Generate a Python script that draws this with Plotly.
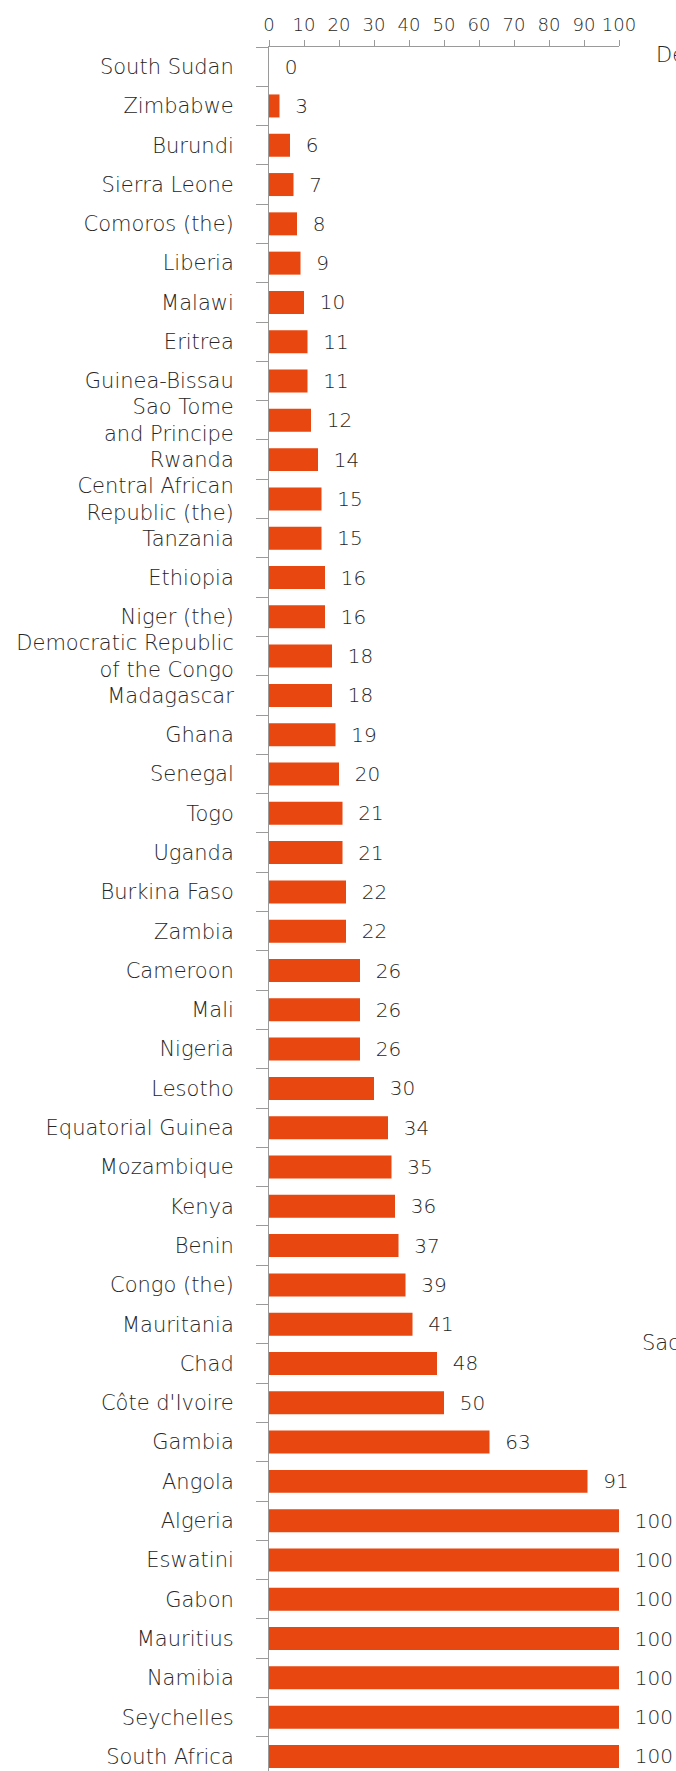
import plotly.graph_objects as go

countries = [
    "South Sudan", "Zimbabwe", "Burundi", "Sierra Leone", "Comoros (the)", "Liberia",
    "Malawi", "Eritrea", "Guinea-Bissau", "Sao Tome<br>and Principe", "Rwanda",
    "Central African<br>Republic (the)", "Tanzania", "Ethiopia", "Niger (the)",
    "Democratic Republic<br>of the Congo", "Madagascar", "Ghana", "Senegal", "Togo",
    "Uganda", "Burkina Faso", "Zambia", "Cameroon", "Mali", "Nigeria", "Lesotho",
    "Equatorial Guinea", "Mozambique", "Kenya", "Benin", "Congo (the)", "Mauritania",
    "Chad", "Côte d'Ivoire", "Gambia", "Angola", "Algeria", "Eswatini", "Gabon",
    "Mauritius", "Namibia", "Seychelles", "South Africa",
]
values = [
    0, 3, 6, 7, 8, 9, 10, 11, 11, 12, 14, 15, 15, 16, 16, 18, 18, 19, 20, 21, 21, 22, 22,
    26, 26, 26, 30, 34, 35, 36, 37, 39, 41, 48, 50, 63, 91, 100, 100, 100, 100, 100, 100, 100,
]
x_ticks = [0, 10, 20, 30, 40, 50, 60, 70, 80, 90, 100]
side_texts = ["De", "Sac"]

FONT = "DejaVu Sans"
TEXT = "#262626"
AXIS = "#9a9a9a"
BAR = "#E8470F"

fig = go.Figure(
    go.Bar(
        x=values,
        y=countries,
        orientation="h",
        marker=dict(color=BAR, line=dict(width=0)),
        text=values,
        texttemplate="\u00a0\u00a0%{x}",
        textposition="outside",
        constraintext="none",
        cliponaxis=False,
        textfont=dict(family=FONT, size=20, color=TEXT, weight=300),
        hoverinfo="skip",
    )
)

fig.update_layout(
    width=676,
    height=1771,
    margin=dict(l=269, r=57, t=47, b=0, pad=0),
    paper_bgcolor="white",
    plot_bgcolor="white",
    bargap=0.415,
    showlegend=False,
    font=dict(family=FONT, color=TEXT, weight=300),
    xaxis=dict(
        side="top",
        range=[0, 100],
        tickvals=x_ticks,
        ticktext=[str(v) for v in x_ticks],
        showgrid=False,
        zeroline=False,
        showline=True,
        linecolor=AXIS,
        linewidth=1,
        ticks="outside",
        ticklen=6,
        tickcolor=AXIS,
        tickfont=dict(family=FONT, size=18, color=TEXT, weight=300),
        ticklabelstandoff=2,
        fixedrange=True,
    ),
    yaxis=dict(
        type="category",
        categoryorder="array",
        categoryarray=countries,
        range=[43.37, -0.5],
        showgrid=False,
        zeroline=False,
        showline=True,
        linecolor=AXIS,
        linewidth=1,
        ticks="outside",
        ticklen=12,
        tickcolor=AXIS,
        tickson="boundaries",
        tickfont=dict(family=FONT, size=21, color=TEXT, weight=300),
        ticklabelstandoff=30,
        fixedrange=True,
    ),
    annotations=[
        dict(text=side_texts[0], xref="paper", yref="paper", x=1.099, y=0.9954,
             xanchor="left", yanchor="middle", showarrow=False,
             font=dict(family=FONT, size=21, color=TEXT, weight=300)),
        dict(text=side_texts[1], xref="paper", yref="paper", x=1.061, y=0.2483,
             xanchor="left", yanchor="middle", showarrow=False,
             font=dict(family=FONT, size=21, color=TEXT, weight=300)),
    ],
)

fig.write_html(
    "out.html",
    config={"displayModeBar": False},
    post_script="document.body.style.margin='0';document.documentElement.style.overflow='hidden';",
)
